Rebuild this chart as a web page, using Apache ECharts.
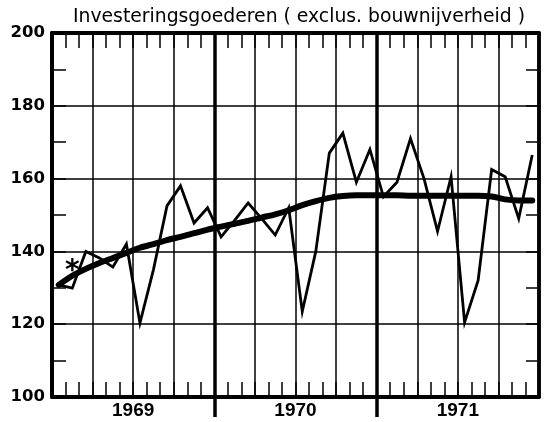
<!DOCTYPE html>
<html>
<head>
<meta charset="utf-8">
<script src="https://cdn.jsdelivr.net/npm/echarts@6/dist/echarts.min.js"></script>
<style>
html,body{margin:0;padding:0;background:#fff;}
#chart{width:552px;height:422px;}
</style>
</head>
<body>
<div id="chart"></div>
<script>
// Months Jan 1969 .. Dec 1971
const months = [
  '1969-01','1969-02','1969-03','1969-04','1969-05','1969-06','1969-07','1969-08','1969-09','1969-10','1969-11','1969-12',
  '1970-01','1970-02','1970-03','1970-04','1970-05','1970-06','1970-07','1970-08','1970-09','1970-10','1970-11','1970-12',
  '1971-01','1971-02','1971-03','1971-04','1971-05','1971-06','1971-07','1971-08','1971-09','1971-10','1971-11','1971-12'
];
// Monthly index (thin line)
const indexValues = [
  130.8, 129.9, 140.0, 138.2, 135.7, 142.0, 120.3, 135.0, 152.5, 158.0, 147.8, 152.0,
  144.0, 148.5, 153.3, 149.0, 144.5, 152.0, 123.5, 140.0, 167.0, 172.5, 159.0, 168.0,
  155.0, 159.0, 171.0, 160.0, 145.5, 160.5, 120.5, 132.0, 162.5, 160.5, 149.0, 166.5
];
// Trend (thick line)
const trendValues = [
  130.8, 133.3, 135.2, 136.8, 138.2, 139.6, 141.0, 142.0, 143.1, 144.0, 145.0, 146.0,
  146.8, 147.6, 148.4, 149.3, 150.2, 151.3, 152.7, 153.8, 154.7, 155.2, 155.4, 155.4,
  155.4, 155.4, 155.3, 155.3, 155.3, 155.3, 155.3, 155.3, 155.1, 154.3, 154.0, 154.0
];
// Year labels on a half-year category axis
const yearLabels = ['', '1969', '', '1970', '', '1971', ''];
// Asterisk annotation
const asteriskPoint = ['1969-02', 134.5];
const titleText = 'Investeringsgoederen ( exclus. bouwnijverheid )';

const chart = echarts.init(document.getElementById('chart'), null, {renderer: 'canvas'});
const black = '#000';
chart.setOption({
  animation: false,
  backgroundColor: '#fff',
  title: {
    text: titleText,
    left: 68, top: 3,
    textStyle: {fontFamily: 'DejaVu Sans', fontSize: 18.8, fontWeight: 'normal', color: black}
  },
  grid: {left: 52, right: 13, top: 33, bottom: 25},
  xAxis: [
    {
      type: 'category', data: months, position: 'bottom', boundaryGap: true,
      axisLine: {show: true, lineStyle: {color: black, width: 4}},
      axisTick: {show: true, inside: true, length: 15, interval: 0, lineStyle: {color: black, width: 1.5}},
      axisLabel: {show: false},
      splitLine: {show: true, interval: function (i) { return i % 3 === 0; }, lineStyle: {color: black, width: 1.5}}
    },
    {
      type: 'category', data: months, position: 'top', boundaryGap: true,
      axisLine: {show: true, lineStyle: {color: black, width: 4}},
      axisTick: {show: true, inside: true, length: 15, interval: 0, lineStyle: {color: black, width: 1.5}},
      axisLabel: {show: false},
      splitLine: {show: true, interval: function (i) { return i % 12 === 0; }, lineStyle: {color: black, width: 3.5}}
    },
    {
      type: 'category', data: yearLabels, position: 'bottom', boundaryGap: false,
      axisLine: {show: false},
      axisTick: {show: true, inside: false, length: 20, interval: function (i) { return i === 2 || i === 4; }, lineStyle: {color: black, width: 3.5}},
      axisLabel: {show: true, interval: 0, margin: 4, color: black, fontFamily: 'Liberation Sans', fontWeight: 'bold', fontSize: 19},
      splitLine: {show: false}
    }
  ],
  yAxis: [
    {
      type: 'value', min: 100, max: 200, interval: 20, position: 'left',
      axisLine: {show: true, lineStyle: {color: black, width: 4}},
      axisTick: {show: true, inside: true, length: 14, lineStyle: {color: black, width: 1.5}},
      minorTick: {show: true, splitNumber: 2, length: 14, lineStyle: {color: black, width: 1.5}},
      axisLabel: {show: true, margin: 7, color: black, fontFamily: 'DejaVu Sans', fontWeight: 'bold', fontSize: 16.5},
      splitLine: {show: true, lineStyle: {color: black, width: 1.5}}
    },
    {
      type: 'value', min: 100, max: 200, interval: 20, position: 'right',
      axisLine: {show: true, lineStyle: {color: black, width: 3.5}},
      axisTick: {show: true, inside: true, length: 13, lineStyle: {color: black, width: 1.5}},
      minorTick: {show: true, splitNumber: 2, length: 13, lineStyle: {color: black, width: 1.5}},
      axisLabel: {show: false},
      splitLine: {show: false}
    }
  ],
  series: [
    {
      name: 'trend', type: 'line', xAxisIndex: 0, yAxisIndex: 0,
      data: trendValues, smooth: 0.3, symbol: 'none',
      lineStyle: {color: black, width: 6, cap: 'round', join: 'round'}
    },
    {
      name: 'index', type: 'line', xAxisIndex: 0, yAxisIndex: 0,
      data: indexValues, smooth: false, symbol: 'none',
      lineStyle: {color: black, width: 2.8, join: 'miter'},
      markPoint: {
        symbol: 'circle', symbolSize: 0, silent: true,
        data: [{coord: asteriskPoint}],
        label: {show: true, formatter: '*', position: 'inside', color: black, fontFamily: 'DejaVu Sans', fontWeight: 'bold', fontSize: 28}
      }
    }
  ]
});
</script>
</body>
</html>
